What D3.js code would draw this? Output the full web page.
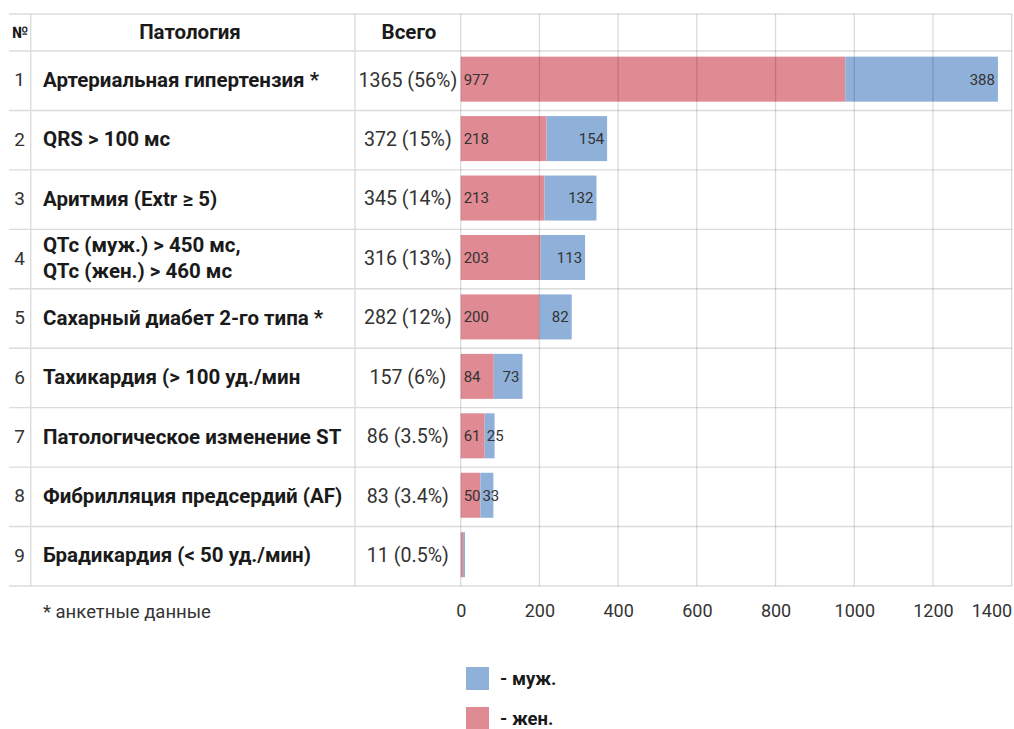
<!DOCTYPE html>
<html lang="ru">
<head>
<meta charset="utf-8">
<script src="https://cdn.jsdelivr.net/npm/d3@7"></script>
<style>
  html, body { margin: 0; padding: 0; background: #fff; }
  svg { display: block; font-family: Roboto, "Noto Sans", sans-serif; }
</style>
</head>
<body>
<svg id="chart" width="1014" height="729"></svg>
<script>
// Row numbers and pathology names (a "\n" splits a name over two lines)
const rowNumbers = [1, 2, 3, 4, 5, 6, 7, 8, 9];
const pathologies = [
  "Артериальная гипертензия *",
  "QRS > 100 мс",
  "Аритмия (Extr ≥ 5)",
  "QTc (муж.) > 450 мс,\nQTc (жен.) > 460 мс",
  "Сахарный диабет 2-го типа *",
  "Тахикардия (> 100 уд./мин",
  "Патологическое изменение ST",
  "Фибрилляция предсердий (AF)",
  "Брадикардия (< 50 уд./мин)"
];
// Totals and their shares
const totals = [1365, 372, 345, 316, 282, 157, 86, 83, 11];
const shares = ["56%", "15%", "14%", "13%", "12%", "6%", "3.5%", "3.4%", "0.5%"];
// Split by sex
const female = [977, 218, 213, 203, 200, 84, 61, 50, 6];
const male = [388, 154, 132, 113, 82, 73, 25, 33, 5];
// Axis ticks
const tickValues = [0, 200, 400, 600, 800, 1000, 1200, 1400];
// Header and legend texts
const headers = { num: "№", name: "Патология", total: "Всего" };
const footnote = "* анкетные данные";
const legendItems = [
  { key: "male", label: "- муж." },
  { key: "female", label: "- жен." }
];

const colors = { female: "#e08a93", male: "#8fb0d8" };
const gridColor = "#dcdcdc";

const svg = d3.select("#chart");

// Layout
const tableLeft = 9, numRight = 30.7, nameRight = 355;
const gridTop = 14, headerBottom = 51, gridBottom = 586;

const x = d3.scaleLinear().domain([0, 1400]).range([460.7, 1011.7]);
const y = d3.scaleBand().domain(rowNumbers).range([headerBottom, gridBottom]).padding(0);
const bw = y.bandwidth();

const rows = rowNumbers.map((n, i) => ({
  n, name: pathologies[i], total: totals[i], share: shares[i],
  female: female[i], male: male[i]
}));

// Bars (drawn under the grid so the grid shows through)
const barG = svg.append("g");
const bars = barG.selectAll("g").data(rows).join("g")
  .attr("transform", d => `translate(0,${y(d.n) + bw * 0.095})`);
const barH = bw * 0.757;

bars.append("rect")
  .attr("x", x(0))
  .attr("width", d => x(d.female) - x(0))
  .attr("height", barH)
  .attr("fill", colors.female);
bars.append("rect")
  .attr("x", d => x(d.female))
  .attr("width", d => x(d.female + d.male) - x(d.female))
  .attr("height", barH)
  .attr("fill", colors.male);

// Value labels inside the bars
const labelled = bars.filter(d => x(d.female) - x(0) > 10);
labelled.append("text")
  .attr("x", x(0) + 3)
  .attr("y", barH / 2)
  .attr("dy", "0.36em")
  .attr("font-size", 15)
  .attr("fill", "#333")
  .text(d => d.female);
labelled.append("text")
  .attr("y", barH / 2)
  .attr("dy", "0.36em")
  .attr("font-size", 15)
  .attr("fill", "#333")
  .text(d => d.male)
  .each(function (d) {
    const w = this.getComputedTextLength();
    const segStart = x(d.female), segEnd = x(d.female + d.male);
    if (segEnd - segStart >= w + 6) {
      d3.select(this).attr("x", segEnd - 3).attr("text-anchor", "end");
    } else {
      d3.select(this).attr("x", segStart + 2).attr("text-anchor", "start");
    }
  });

// Grid: horizontal row lines across table and plot
const grid = svg.append("g");
const hLines = [gridTop, headerBottom].concat(rowNumbers.map(n => y(n) + bw));
grid.selectAll("line.h").data(hLines).join("line")
  .attr("x1", tableLeft).attr("x2", x(1400))
  .attr("y1", d => d).attr("y2", d => d)
  .attr("stroke", gridColor).attr("stroke-width", 1.4);

// Table column separators
grid.selectAll("line.col").data([numRight, nameRight]).join("line")
  .attr("x1", d => d).attr("x2", d => d)
  .attr("y1", gridTop).attr("y2", gridBottom)
  .attr("stroke", gridColor).attr("stroke-width", 1.4);

// Vertical value gridlines (semi-transparent so they show over bars)
grid.selectAll("line.v").data(tickValues).join("line")
  .attr("x1", d => x(d)).attr("x2", d => x(d))
  .attr("y1", gridTop).attr("y2", gridBottom)
  .attr("stroke", "rgba(0,0,0,0.14)").attr("stroke-width", 1.3);

// Axis tick labels
const axis = d3.axisBottom(x).tickValues(tickValues).tickFormat(d3.format("d"))
  .tickSize(0).tickPadding(0);
const axisG = svg.append("g")
  .attr("transform", `translate(0,${gridBottom})`)
  .call(axis);
axisG.select(".domain").remove();
axisG.selectAll(".tick text")
  .attr("y", 31)
  .attr("dy", 0)
  .attr("font-size", 18)
  .attr("font-family", "Roboto, sans-serif")
  .attr("fill", "#333")
  .filter(d => d === 1400)
  .attr("text-anchor", "end");

// Header
const header = svg.append("g").attr("font-weight", "bold").attr("fill", "#1a1a1a");
header.append("text").attr("x", 20).attr("y", 32).attr("dy", "0.35em")
  .attr("text-anchor", "middle").attr("font-size", 16).text(headers.num);
header.append("text").attr("x", 190).attr("y", 32).attr("dy", "0.35em")
  .attr("text-anchor", "middle").attr("font-size", 20.5).text(headers.name);
header.append("text").attr("x", 409).attr("y", 32).attr("dy", "0.35em")
  .attr("text-anchor", "middle").attr("font-size", 20.5).text(headers.total);

// Table body
const body = svg.append("g").selectAll("g").data(rows).join("g")
  .attr("transform", d => `translate(0,${y(d.n) + bw / 2 - 1})`);

body.append("text")
  .attr("x", 19.5).attr("dy", "0.35em")
  .attr("text-anchor", "middle").attr("font-size", 19).attr("fill", "#333")
  .text(d => d.n);

body.append("text")
  .attr("font-size", 20.5).attr("font-weight", "bold").attr("fill", "#1a1a1a")
  .each(function (d) {
    const lines = d.name.split("\n");
    const lh = 25.5;
    d3.select(this).selectAll("tspan").data(lines).join("tspan")
      .attr("x", 43)
      .attr("y", (l, i) => (i - (lines.length - 1) / 2) * lh)
      .attr("dy", "0.35em")
      .text(l => l);
  });

body.append("text")
  .attr("x", (nameRight + x(0)) / 2).attr("dy", "0.35em")
  .attr("text-anchor", "middle").attr("font-size", 19.6).attr("fill", "#333")
  .text(d => `${d.total} (${d.share})`);

// Footnote
svg.append("text")
  .attr("x", 43).attr("y", 612).attr("dy", "0.35em")
  .attr("font-size", 18.5).attr("fill", "#333")
  .text(footnote);

// Legend
const legend = svg.append("g").selectAll("g").data(legendItems).join("g")
  .attr("transform", (d, i) => `translate(466,${667 + i * 40})`);
legend.append("rect")
  .attr("width", 23).attr("height", 23)
  .attr("fill", d => colors[d.key]);
legend.append("text")
  .attr("x", 34).attr("y", 11.5).attr("dy", "0.35em")
  .attr("font-size", 18.5).attr("font-weight", "bold").attr("fill", "#1a1a1a")
  .text(d => d.label);
</script>
</body>
</html>
